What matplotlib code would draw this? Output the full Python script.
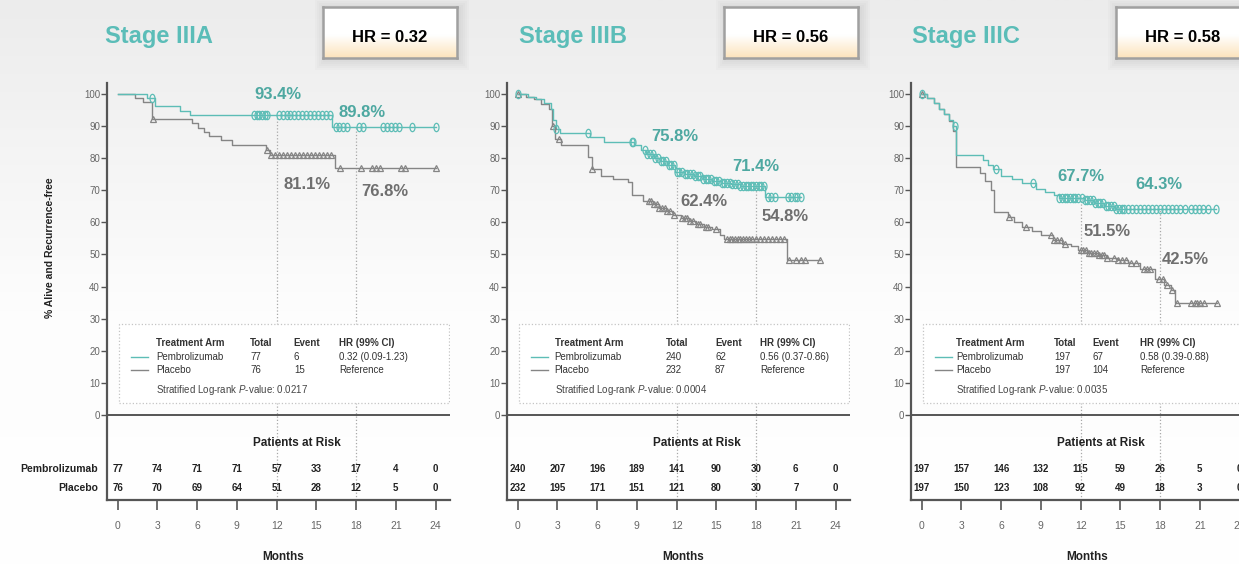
import numpy as np
import matplotlib.pyplot as plt
from matplotlib.colors import LinearSegmentedColormap
from matplotlib.patches import Rectangle
from matplotlib.path import Path
from matplotlib.transforms import Affine2D

plt.rcParams['font.family'] = ['Liberation Sans', 'DejaVu Sans']
plt.rcParams['mathtext.fontset'] = 'custom'
plt.rcParams['mathtext.it'] = 'Liberation Sans:italic'
plt.rcParams['mathtext.rm'] = 'Liberation Sans'

# Panel data ..................................................................
stages = ['Stage IIIA', 'Stage IIIB', 'Stage IIIC']
hr_values = ['0.32', '0.56', '0.58']
hr_ci = ['0.32 (0.09-1.23)', '0.56 (0.37-0.86)', '0.58 (0.39-0.88)']
pembro_total = [77, 240, 197]
pembro_events = [6, 62, 67]
placebo_total = [76, 232, 197]
placebo_events = [15, 87, 104]
p_values = ['0.0217', '0.0004', '0.0035']

# landmark estimates at 12 and 18 months
pembro_12 = [93.4, 75.8, 67.7]
pembro_18 = [89.8, 71.4, 64.3]
placebo_12 = [81.1, 62.4, 51.5]
placebo_18 = [76.8, 54.8, 42.5]

# patients at risk
risk_months = [0, 3, 6, 9, 12, 15, 18, 21, 24]
pembro_risk = [[77, 74, 71, 71, 57, 33, 17, 4, 0],
               [240, 207, 196, 189, 141, 90, 30, 6, 0],
               [197, 157, 146, 132, 115, 59, 26, 5, 0]]
placebo_risk = [[76, 70, 69, 64, 51, 28, 12, 5, 0],
                [232, 195, 171, 151, 121, 80, 30, 7, 0],
                [197, 150, 123, 108, 92, 49, 18, 3, 0]]

# Kaplan-Meier steps (month of event, survival after it) and censoring times
pembro_a_t = [0, 2.2, 2.8, 4.7, 5.5, 16.2]
pembro_a_s = [100, 98.7, 96.1, 94.8, 93.4, 89.8]
pembro_a_cens = [2.6, 10.3, 10.5, 10.7, 10.9, 11.1, 11.3, 12.2, 12.5, 12.8, 13.0,
                 13.3, 13.6, 13.9, 14.2, 14.5, 14.8, 15.1, 15.4, 15.7, 16.0, 16.5,
                 16.7, 17.0, 17.3, 18.2, 18.5, 20.0, 20.3, 20.6, 20.9, 21.2, 22.2, 24.0]
placebo_a_t = [0, 1.3, 1.9, 2.6, 5.6, 6.1, 6.5, 6.9, 7.8, 8.6, 11.2, 11.5, 16.4]
placebo_a_s = [100, 98.7, 97.4, 92.1, 90.8, 89.5, 88.2, 86.8, 85.5, 84.2, 82.6, 81.1, 76.8]
placebo_a_cens = [2.7, 11.3, 11.6, 11.9, 12.2, 12.5, 12.8, 13.1, 13.4, 13.7, 14.0,
                  14.3, 14.6, 14.9, 15.2, 15.5, 15.8, 16.1, 16.8, 18.4, 19.2, 19.5,
                  19.8, 21.4, 21.7, 24.0]

pembro_b_t = [0, 0.8, 1.4, 2.0, 2.5, 2.7, 2.9, 3.2, 5.5, 6.5, 8.8, 9.3, 9.7, 10.3,
              10.8, 11.3, 11.9, 12.6, 13.3, 14.0, 14.7, 15.4, 16.1, 16.8, 18.7]
pembro_b_s = [100, 99.2, 98.3, 97.1, 95.4, 92.0, 89.2, 87.8, 86.6, 85.0, 84.0, 82.5,
              81.2, 80.0, 79.0, 78.0, 75.8, 75.0, 74.3, 73.6, 73.0, 72.4, 71.9, 71.4, 67.8]
pembro_b_cens = [0.0, 2.9, 5.3, 8.6, 8.7, 9.6, 9.8, 10.0, 10.2, 10.4, 10.6, 10.8, 11.0,
                 11.2, 11.4, 11.6, 11.8, 12.0, 12.2, 12.4, 12.6, 12.8, 13.0, 13.2, 13.4,
                 13.6, 13.8, 14.0, 14.2, 14.4, 14.6, 14.8, 15.0, 15.2, 15.4, 15.6, 15.8,
                 16.0, 16.2, 16.4, 16.6, 16.8, 17.0, 17.2, 17.4, 17.6, 17.8, 18.0, 18.2,
                 18.4, 18.6, 18.9, 19.1, 19.4, 20.4, 20.6, 20.9, 21.1, 21.4]
placebo_b_t = [0, 0.6, 1.2, 1.8, 2.4, 2.6, 2.8, 3.3, 5.3, 5.6, 6.3, 7.2, 8.3, 8.6, 9.5,
               10.2, 10.7, 11.2, 11.7, 12.3, 12.9, 13.5, 14.1, 14.7, 15.3, 15.6, 20.3]
placebo_b_s = [100, 99.1, 98.3, 97.0, 95.3, 90.0, 86.0, 84.0, 80.5, 76.5, 74.3, 73.4,
               72.5, 68.5, 66.8, 65.6, 64.5, 63.5, 62.4, 61.4, 60.5, 59.6, 58.7, 57.8,
               56.0, 54.8, 48.3]
placebo_b_cens = [0.0, 2.7, 3.1, 5.6, 9.9, 10.1, 10.3, 10.5, 10.7, 10.9, 11.1, 11.3,
                  11.5, 11.8, 12.4, 12.6, 12.8, 13.0, 13.2, 13.6, 13.8, 14.2, 14.4, 15.0,
                  15.8, 16.0, 16.2, 16.4, 16.6, 16.8, 17.0, 17.2, 17.5, 17.7, 18.0, 18.3,
                  18.6, 18.9, 19.2, 19.5, 19.8, 20.1, 20.5, 21.0, 21.4, 21.7, 22.8]

pembro_c_t = [0, 0.4, 0.9, 1.3, 1.7, 2.1, 2.4, 2.6, 4.6, 5.0, 5.4, 6.0, 6.8, 7.6, 8.6,
              9.3, 10.0, 10.4, 12.3, 13.0, 13.8, 14.6]
pembro_c_s = [100, 98.6, 97.1, 95.3, 93.6, 91.8, 89.9, 81.0, 79.5, 78.0, 76.6, 74.5,
              73.4, 72.2, 70.4, 69.5, 68.6, 67.7, 66.9, 66.0, 65.2, 64.3]
pembro_c_cens = [0.0, 2.5, 5.6, 8.4, 10.4, 10.6, 10.8, 11.0, 11.2, 11.4, 11.6, 11.8,
                 12.1, 12.3, 12.5, 12.7, 12.9, 13.1, 13.3, 13.5, 13.7, 13.9, 14.1, 14.3,
                 14.5, 14.7, 14.9, 15.1, 15.3, 15.6, 15.9, 16.2, 16.5, 16.8, 17.1, 17.4,
                 17.7, 18.0, 18.3, 18.6, 18.9, 19.2, 19.5, 19.9, 20.3, 20.6, 20.9, 21.2,
                 21.6, 22.2]
placebo_c_t = [0, 0.4, 0.9, 1.3, 1.7, 2.1, 2.4, 2.6, 4.4, 4.8, 5.2, 5.5, 6.5, 7.0, 7.6,
               8.3, 9.0, 9.9, 10.6, 11.3, 11.8, 12.5, 13.3, 14.0, 14.8, 15.6, 16.5,
               17.6, 18.3, 18.8, 19.1]
placebo_c_s = [100, 98.6, 97.1, 95.3, 93.6, 91.5, 88.5, 77.3, 75.5, 73.0, 70.0, 63.3,
               61.8, 60.0, 58.4, 57.2, 56.0, 54.5, 53.4, 52.5, 51.5, 50.6, 49.9, 49.0,
               48.2, 47.4, 45.5, 42.5, 40.5, 38.8, 34.9]
placebo_c_cens = [0.0, 6.6, 7.9, 9.8, 10.0, 10.2, 10.5, 10.8, 12.0, 12.2, 12.4, 12.6,
                  12.8, 13.0, 13.2, 13.4, 13.6, 13.8, 14.0, 14.5, 14.8, 15.1, 15.4, 15.8,
                  16.2, 16.8, 17.0, 17.2, 17.9, 18.2, 18.5, 18.9, 19.3, 20.3, 20.6, 20.8,
                  21.0, 21.3, 22.3]

pembro_curves = [(pembro_a_t, pembro_a_s, pembro_a_cens),
                 (pembro_b_t, pembro_b_s, pembro_b_cens),
                 (pembro_c_t, pembro_c_s, pembro_c_cens)]
placebo_curves = [(placebo_a_t, placebo_a_s, placebo_a_cens),
                  (placebo_b_t, placebo_b_s, placebo_b_cens),
                  (placebo_c_t, placebo_c_s, placebo_c_cens)]

# Styles and layout ...........................................................
TEAL = '#5dbdb6'
TEAL_TXT = '#4ea8a1'
GRAY = '#858585'
GRAY_TXT = '#6f6f6f'
TITLE = '#5bbdb8'
W, H = 1239, 565

panel_left = [107, 507, 911]
title_left = [105, 519, 912]
box_left = [323, 724, 1116]
legend_cols = [[2.9, 10.0, 13.3, 16.7], [2.8, 11.2, 14.9, 18.3], [2.6, 10.0, 12.9, 16.5]]
label_pos = [[(12.1, 99.7), (18.45, 94.1), (14.3, 71.7), (20.2, 69.5)],
             [(11.9, 86.7), (18.0, 77.4), (14.1, 66.5), (20.2, 61.8)],
             [(12.0, 74.2), (17.9, 71.7), (14.0, 57.1), (19.9, 48.5)]]
XMIN, XMAX = -0.8, 25.1
YMIN, YMAX = -26.5, 103.5
PX_PER_MONTH = 13.25

oval = Path.unit_circle().transformed(Affine2D().scale(0.6, 1.0))


def fx(px):
    return px / W


def fy(py):
    return 1 - py / H


def km(ax, t, s, cens, color, marker, ms):
    t = np.asarray(t, dtype=float)
    s = np.asarray(s, dtype=float)
    end = max(cens[-1], t[-1])
    ax.step(np.append(t, end), np.append(s, s[-1]), where='post', color=color,
            lw=1.0, zorder=3)
    idx = np.searchsorted(t, cens, side='right') - 1
    ax.plot(cens, s[idx], ls='none', marker=marker, ms=ms, mfc='none', mec=color,
            mew=0.9, zorder=4)


def surv_at(t, s, month):
    return s[np.searchsorted(t, month, side='right') - 1]


fig = plt.figure(figsize=(W / 100, H / 100), dpi=100)

# Slide background: light gray fading to white
bg = fig.add_axes([0, 0, 1, 1], zorder=-10)
grad = np.linspace(0, 1, 256).reshape(-1, 1)
bg_cmap = LinearSegmentedColormap.from_list('bg', [(0, '#ececec'), (0.55, '#fdfdfd'),
                                                   (1, '#ffffff')])
bg.imshow(grad, aspect='auto', extent=[0, 1, 0, 1], cmap=bg_cmap)
bg.axis('off')

box_cmap = LinearSegmentedColormap.from_list('box', [(0, '#ffffff'), (0.55, '#ffffff'),
                                                     (1, '#fce3bb')])

for i in range(3):
    width_px = (XMAX - XMIN) * PX_PER_MONTH
    ax = fig.add_axes([fx(panel_left[i]), fy(500), width_px / W,
                       (500 - 82.7) / H])
    ax.set_facecolor('none')
    ax.set_xlim(XMIN, XMAX)
    ax.set_ylim(YMIN, YMAX)
    for side in ['top', 'right']:
        ax.spines[side].set_visible(False)
    for side in ['left', 'bottom']:
        ax.spines[side].set_color('#555555')
        ax.spines[side].set_linewidth(1.6)
    ax.set_yticks(range(0, 101, 10))
    ax.set_xticks(risk_months)
    ax.tick_params(axis='y', direction='out', length=4, width=1, colors='#555555',
                   labelsize=7, pad=1)
    ax.tick_params(axis='x', direction='out', length=7, width=1.2, colors='#555555',
                   labelsize=7.5, pad=8)
    for lbl in ax.get_xticklabels() + ax.get_yticklabels():
        lbl.set_color('#666666')
    ax.axhline(0, color='#555555', lw=1.4, zorder=2)

    pt, ps, pc = pembro_curves[i]
    qt, qs, qc = placebo_curves[i]

    # dotted landmarks at 12 and 18 months
    for m in [12, 18]:
        top = surv_at(np.asarray(pt), np.asarray(ps), m)
        ax.plot([m, m], [YMIN, top], ls=':', color='#a8a8a8', lw=0.9, zorder=1)

    km(ax, qt, qs, qc, GRAY, '^', 5)
    km(ax, pt, ps, pc, TEAL, oval, 6)

    # landmark labels
    vals = [pembro_12[i], pembro_18[i], placebo_12[i], placebo_18[i]]
    cols = [TEAL_TXT, TEAL_TXT, GRAY_TXT, GRAY_TXT]
    for v, c, (lx, ly) in zip(vals, cols, label_pos[i]):
        ax.text(lx, ly, f'{v}%', color=c, fontsize=12, fontweight='bold',
                ha='center', va='center', zorder=5)

    # legend table
    ax.add_patch(Rectangle((0.1, 3.7), 24.9, 24.6, fc='white', ec='#c4c4c4',
                           ls=':', lw=0.9, zorder=2))
    c0, c1, c2, c3 = legend_cols[i]
    ax.plot([1.0, 2.3], [18.2, 18.2], color=TEAL, lw=1.0, zorder=3)
    ax.plot([1.0, 2.3], [14.0, 14.0], color=GRAY, lw=1.0, zorder=3)
    rows = [(22.5, ['Treatment Arm', 'Total', 'Event', 'HR (99% CI)'], 'bold'),
            (18.2, ['Pembrolizumab', str(pembro_total[i]), str(pembro_events[i]),
                    hr_ci[i]], 'normal'),
            (14.0, ['Placebo', str(placebo_total[i]), str(placebo_events[i]),
                    'Reference'], 'normal')]
    for y, cells, weight in rows:
        for x, txt in zip([c0, c1, c2, c3], cells):
            ax.text(x, y, txt, fontsize=7, fontweight=weight, color='#333333',
                    ha='left', va='center', zorder=3, clip_on=False)
    ax.text(c0, 7.8, 'Stratified Log-rank $\\it{P}$-value: ' + p_values[i],
            fontsize=7, color='#444444', ha='left', va='center', zorder=3)

    # patients at risk
    ax.text(13.5, -8.7, 'Patients at Risk', fontsize=8.5, fontweight='bold',
            color='#222222', ha='center', va='center')
    for m, a, b in zip(risk_months, pembro_risk[i], placebo_risk[i]):
        ax.text(m, -16.8, str(a), fontsize=7, fontweight='bold', color='#222222',
                ha='center', va='center')
        ax.text(m, -22.7, str(b), fontsize=7, fontweight='bold', color='#222222',
                ha='center', va='center')
    if i == 0:
        ax.text(-1.5, -16.8, 'Pembrolizumab', fontsize=7.5, fontweight='bold',
                color='#222222', ha='right', va='center', clip_on=False)
        ax.text(-1.5, -22.7, 'Placebo', fontsize=7.5, fontweight='bold',
                color='#222222', ha='right', va='center', clip_on=False)
        ax.text(-5.1, 52, '% Alive and Recurrence-free', fontsize=7.5,
                fontweight='bold', color='#222222', rotation=90, ha='center',
                va='center', clip_on=False)
    ax.text(12.5, -44.3, 'Months', fontsize=8.5, fontweight='bold', color='#222222',
            ha='center', va='center', clip_on=False)

    # stage title and HR box with a soft shadow
    fig.text(fx(title_left[i]), fy(36), stages[i], fontsize=17, fontweight='bold',
             color=TITLE, ha='left', va='center')
    bl, bt, bw, bh = box_left[i], 7, 134, 51
    for k in range(1, 6):
        fig.patches.append(Rectangle((fx(bl - 2 * k + 2), fy(bt + bh + 2 * k + 2)),
                                     (bw + 4 * k) / W, (bh + 4 * k) / H,
                                     transform=fig.transFigure, fc='#9a9a9a',
                                     ec='none', alpha=0.045, zorder=-5))
    bax = fig.add_axes([fx(bl), fy(bt + bh), bw / W, bh / H], zorder=5)
    bax.imshow(grad, aspect='auto', extent=[0, 1, 0, 1], cmap=box_cmap)
    bax.set_xticks([])
    bax.set_yticks([])
    for sp in bax.spines.values():
        sp.set_color('#a0a0a0')
        sp.set_linewidth(1.8)
    bax.text(0.5, 0.41, f'HR = {hr_values[i]}', fontsize=12, fontweight='bold',
             color='black', ha='center', va='center', transform=bax.transAxes)

fig.savefig('out.png', dpi=100)
